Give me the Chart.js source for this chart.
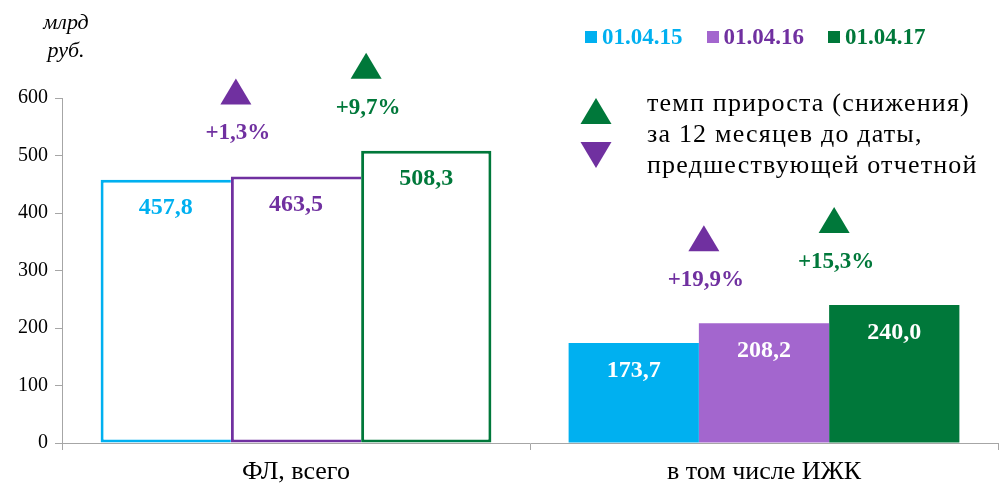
<!DOCTYPE html>
<html>
<head>
<meta charset="utf-8">
<script src="https://cdn.jsdelivr.net/npm/chart.js@4/dist/chart.umd.min.js"></script>
<style>
  body { margin: 0; background: #fff; }
  #wrap { position: relative; width: 999px; height: 489px; }
  #unit { position: absolute; left: 38px; top: 8px; width: 56px; text-align: center;
          font: italic 22px "Liberation Serif"; line-height: 28px; color: #000; }
  #legend { position: absolute; left: 585px; top: 24px; display: flex;
            font: bold 23px "Liberation Serif"; }
  #legend .item { display: flex; align-items: center; margin-right: 24px; }
  #legend .sq { width: 12px; height: 12px; margin-right: 5px; }
  #note { position: absolute; left: 647px; top: 87px; font: 26px "Liberation Serif";
          letter-spacing: 1.2px; line-height: 31px; color: #000; white-space: nowrap; }
</style>
</head>
<body>
<div id="wrap">
  <canvas id="c" width="999" height="489"></canvas>
  <div id="unit">млрд<br>руб.</div>
  <div id="legend"></div>
  <div id="note">темп прироста (снижения)<br>за 12 месяцев до даты,<br>предшествующей отчетной</div>
</div>
<script>
const categories = ["ФЛ, всего", "в том числе ИЖК"];
const seriesLabels = ["01.04.15", "01.04.16", "01.04.17"];
const values15 = [457.8, 173.7];
const values16 = [463.5, 208.2];
const values17 = [508.3, 240.0];
const growth16 = [1.3, 19.9];
const growth17 = [9.7, 15.3];
const yTicks = [0, 100, 200, 300, 400, 500, 600];

const fills = ["#00B0F0", "#A366CE", "#00783A"];
const darks = ["#00B0F0", "#7030A0", "#00783A"];
const growth = [null, growth16, growth17];

const fmt = v => v.toFixed(1).replace(".", ",");

// legend
const legend = document.getElementById("legend");
seriesLabels.forEach((s, i) => {
  const item = document.createElement("div");
  item.className = "item";
  item.innerHTML = `<span class="sq" style="background:${fills[i]}"></span><span style="color:${darks[i]}">${s}</span>`;
  legend.appendChild(item);
});

function tri(ctx, x, yBase, up, color) {
  const w = 31, h = 26;
  ctx.fillStyle = color;
  ctx.beginPath();
  if (up) {
    ctx.moveTo(x - w / 2, yBase);
    ctx.lineTo(x + w / 2, yBase);
    ctx.lineTo(x, yBase - h);
  } else {
    ctx.moveTo(x - w / 2, yBase - h);
    ctx.lineTo(x + w / 2, yBase - h);
    ctx.lineTo(x, yBase);
  }
  ctx.closePath();
  ctx.fill();
}

const labelsPlugin = {
  id: "labels",
  afterDatasetsDraw(chart) {
    const ctx = chart.ctx;
    ctx.save();
    ctx.textAlign = "center";
    ctx.textBaseline = "middle";
    chart.data.datasets.forEach((ds, di) => {
      chart.getDatasetMeta(di).data.forEach((bar, i) => {
        ctx.font = 'bold 24px "Liberation Serif"';
        ctx.fillStyle = i === 0 ? darks[di] : "#fff";
        ctx.fillText(fmt(ds.data[i]), bar.x, bar.y + 28);
        const g = growth[di];
        if (g) {
          const x = bar.x - bar.width / 2 + 5;
          tri(ctx, x, bar.y - 72, g[i] >= 0, darks[di]);
          ctx.font = 'bold 23px "Liberation Serif"';
          ctx.fillStyle = darks[di];
          ctx.fillText((g[i] >= 0 ? "+" : "") + fmt(g[i]) + "%", x + 2, bar.y - 43);
        }
      });
    });
    // triangle legend
    tri(ctx, 596, 124, true, "#00783A");
    tri(ctx, 596, 168, false, "#7030A0");
    ctx.restore();
  }
};

const seriesData = [values15, values16, values17];

new Chart(document.getElementById("c"), {
  type: "bar",
  data: {
    labels: categories,
    datasets: seriesData.map((d, di) => ({
      label: seriesLabels[di],
      data: d,
      backgroundColor: ["#fff", fills[di]],
      borderColor: darks[di],
      borderWidth: c => c.dataIndex === 0
        ? { top: 3, bottom: 3, left: 3, right: di === 2 ? 3 : 0 }
        : 0,
      borderSkipped: false,
      categoryPercentage: 0.835,
      barPercentage: 1
    }))
  },
  options: {
    responsive: false,
    animation: false,
    layout: { padding: { top: 98, right: 1, left: 0, bottom: 0 } },
    plugins: { legend: { display: false }, tooltip: { enabled: false } },
    scales: {
      x: {
        grid: { drawOnChartArea: false, color: "#a6a6a6", tickLength: 7 },
        border: { color: "#a6a6a6" },
        ticks: { color: "#000", font: { family: "Liberation Serif", size: 26 }, padding: 7 },
        afterFit: s => { s.height = 46; }
      },
      y: {
        min: 0,
        max: 600,
        afterBuildTicks: s => { s.ticks = yTicks.map(v => ({ value: v })); },
        grid: { drawOnChartArea: false, color: "#a6a6a6", tickLength: 7 },
        border: { color: "#a6a6a6" },
        ticks: { color: "#000", font: { family: "Liberation Serif", size: 20 }, padding: 7 },
        afterFit: s => { s.width = 62; }
      }
    }
  },
  plugins: [labelsPlugin]
});
</script>
</body>
</html>
